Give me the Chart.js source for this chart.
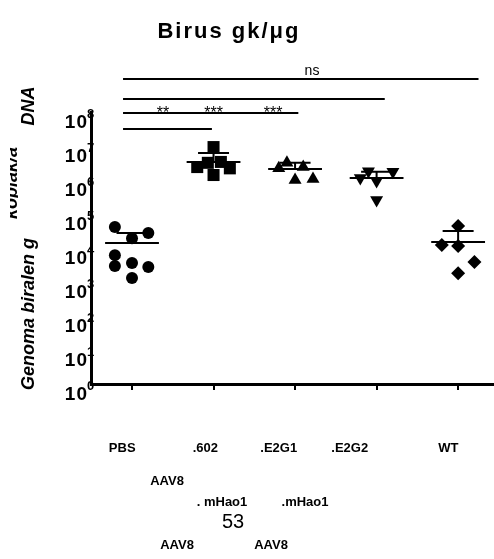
<!DOCTYPE html>
<html>
<head>
<meta charset="utf-8">
<script src="https://cdn.jsdelivr.net/npm/chart.js@4/dist/chart.umd.min.js"></script>
<style>
  html, body { margin: 0; padding: 0; background: #fff; }
  #wrap { width: 494px; height: 559px; }
</style>
</head>
<body>
<div id="wrap"><canvas id="chart" width="494" height="559"></canvas></div>
<script>
// groups on the x axis
const groups = ["PBS", ".602", ".E2G1", ".E2G2", "WT"]

// values per animal
const pbsVals = [41700, 27500, 19500, 6170, 2950, 3630, 2750, 1320]
const v602Vals = [9300000, 2400000, 3200000, 3400000, 2200000, 1400000]
const e2g1Vals = [2200000, 3200000, 2400000, 1000000, 1070000]
const e2g2Vals = [1150000, 1800000, 930000, 1750000, 260000]
const wtVals = [44700, 12300, 11500, 3900, 1820]

// horizontal scatter of each point inside its group
const pbsJitter = [-0.21, 0.2, 0, -0.21, -0.21, 0, 0.2, 0]
const v602Jitter = [0, -0.2, -0.07, 0.09, 0.2, 0]
const e2g1Jitter = [-0.2, -0.1, 0.1, 0, 0.22]
const e2g2Jitter = [-0.2, -0.1, 0, 0.2, 0]
const wtJitter = [0, -0.2, 0, 0.2, 0]

// mean line and top of error bar for each group
const means = [14100, 3400000, 2100000, 1150000, 15100]
const upperErr = [27500, 6200000, 3200000, 1740000, 31600]

// y tick exponents
const tickExps = [0, 1, 2, 3, 4, 5, 6, 7, 8]

// significance brackets: from, to, label
const brackets = [
  [-0.11, 4.25, "ns"],
  [-0.11, 3.1, ""],
  [-0.11, 2.04, ""],
  [-0.11, 0.98, ""],
]
const stars = [[0.38, "**"], [1.0, "***"], [1.73, "***"]]

const FONT = "'Liberation Sans', Arial, sans-serif"

function pts(vals, jit, g) {
  return vals.map((v, i) => ({ x: g + jit[i], y: v }))
}

const series = [
  { vals: pbsVals, jit: pbsJitter, style: "circle", r: 6, rot: 0 },
  { vals: v602Vals, jit: v602Jitter, style: "rect", r: 8.5, rot: 0 },
  { vals: e2g1Vals, jit: e2g1Jitter, style: "triangle", r: 7.5, rot: 0 },
  { vals: e2g2Vals, jit: e2g2Jitter, style: "triangle", r: 7.5, rot: 180 },
  { vals: wtVals, jit: wtJitter, style: "rectRot", r: 7, rot: 0 },
]

const datasets = series.map((s, g) => ({
  label: groups[g],
  data: pts(s.vals, s.jit, g),
  pointStyle: s.style,
  pointRadius: s.r,
  pointRotation: s.rot,
  backgroundColor: "#000",
  borderColor: "#000",
  borderWidth: 0,
}))

// mean + SEM lines
const meanPlugin = {
  id: "meanLines",
  afterDatasetsDraw(chart) {
    const ctx = chart.ctx
    const xs = chart.scales.x
    const ys = chart.scales.y
    ctx.save()
    ctx.strokeStyle = "#000"
    ctx.lineWidth = 2
    means.forEach((m, g) => {
      const ym = ys.getPixelForValue(m)
      const yu = ys.getPixelForValue(upperErr[g])
      ctx.beginPath()
      ctx.moveTo(xs.getPixelForValue(g - 0.33), ym)
      ctx.lineTo(xs.getPixelForValue(g + 0.33), ym)
      ctx.moveTo(xs.getPixelForValue(g), ym)
      ctx.lineTo(xs.getPixelForValue(g), yu)
      ctx.moveTo(xs.getPixelForValue(g - 0.19), yu)
      ctx.lineTo(xs.getPixelForValue(g + 0.19), yu)
      ctx.stroke()
    })
    ctx.restore()
  },
}

// text, y tick labels and brackets
const textPlugin = {
  id: "texts",
  afterDraw(chart) {
    const ctx = chart.ctx
    const xs = chart.scales.x
    const ys = chart.scales.y
    const area = chart.chartArea
    ctx.save()
    ctx.fillStyle = "#000"
    ctx.strokeStyle = "#000"

    // title
    ctx.font = "bold 22px " + FONT
    ctx.letterSpacing = "2px"
    ctx.textAlign = "center"
    ctx.textBaseline = "middle"
    ctx.fillText("Birus gk/\u03bcg", 229, 32)
    ctx.letterSpacing = "0px"

    // brackets
    ctx.lineWidth = 2
    brackets.forEach((b, i) => {
      const y = area.top - 33 + i * 17 + (i === 1 ? 3 : 0) + (i === 3 ? -1 : 0)
      ctx.beginPath()
      ctx.moveTo(xs.getPixelForValue(b[0]), y)
      ctx.lineTo(xs.getPixelForValue(b[1]), y)
      ctx.stroke()
      if (b[2]) {
        ctx.font = "14px " + FONT
        ctx.fillText(b[2], 312, y - 8)
      }
    })
    ctx.font = "16px " + FONT
    stars.forEach((s) => {
      ctx.fillText(s[1], xs.getPixelForValue(s[0]), area.top + 2)
    })

    // y tick labels 10^n
    tickExps.forEach((e) => {
      const y = ys.getPixelForValue(Math.pow(10, e))
      ctx.font = "bold 19px " + FONT
      ctx.letterSpacing = "1px"
      ctx.textAlign = "right"
      ctx.textBaseline = "alphabetic"
      ctx.fillText("10", area.left - 3, y + 16)
      ctx.letterSpacing = "0px"
      ctx.font = "bold 13px " + FONT
      ctx.textAlign = "left"
      ctx.fillText(String(e), area.left - 4, y + 6)
    })

    // y axis title (rotated)
    ctx.save()
    ctx.translate(29, 0)
    ctx.rotate(-Math.PI / 2)
    ctx.font = "italic bold 18px " + FONT
    ctx.textAlign = "center"
    ctx.textBaseline = "middle"
    ctx.fillText("Genoma biralen g", -314, 0)
    ctx.fillText("DNA", -106, 0)
    ctx.save()
    ctx.beginPath()
    ctx.rect(-225, -19, 84, 8)
    ctx.clip()
    ctx.textBaseline = "alphabetic"
    ctx.fillText("kopiak/a", -183, -12)
    ctx.restore()
    ctx.restore()

    // x labels
    ctx.textAlign = "center"
    ctx.textBaseline = "middle"
    ctx.font = "bold 13px " + FONT
    const rowOff = [-0.12, -0.1, -0.2, -0.33, -0.12]
    groups.forEach((g, i) => {
      ctx.fillText(g, xs.getPixelForValue(i + rowOff[i]), 448)
    })
    ctx.fillText("AAV8", 167, 481)
    ctx.fillText(". mHao1", 222, 502)
    ctx.fillText(".mHao1", 305, 502)
    ctx.fillText("AAV8", 177, 545)
    ctx.fillText("AAV8", 271, 545)
    ctx.font = "20px " + FONT
    ctx.fillText("53", 233, 522)

    ctx.restore()
  },
}

new Chart(document.getElementById("chart").getContext("2d"), {
  type: "scatter",
  data: { datasets: datasets },
  options: {
    responsive: false,
    animation: false,
    events: [],
    layout: { autoPadding: false, padding: { left: 91, top: 112, right: 0, bottom: 169 } },
    plugins: { legend: { display: false }, tooltip: { enabled: false } },
    scales: {
      x: {
        type: "linear",
        min: -0.503,
        max: 4.44,
        afterBuildTicks: (axis) => {
          axis.ticks = groups.map((g, i) => ({ value: i }))
        },
        ticks: { display: false },
        grid: {
          display: true,
          drawOnChartArea: false,
          drawTicks: true,
          tickLength: 6,
          color: "#000",
          lineWidth: 2,
        },
        border: { display: true, color: "#000", width: 3 },
      },
      y: {
        type: "logarithmic",
        min: 1,
        max: 100000000,
        afterBuildTicks: (axis) => {
          axis.ticks = tickExps.map((e) => ({ value: Math.pow(10, e) }))
        },
        ticks: { display: false },
        grid: { display: false, drawTicks: false },
        border: { display: true, color: "#000", width: 3 },
      },
    },
  },
  plugins: [meanPlugin, textPlugin],
})
</script>
</body>
</html>
